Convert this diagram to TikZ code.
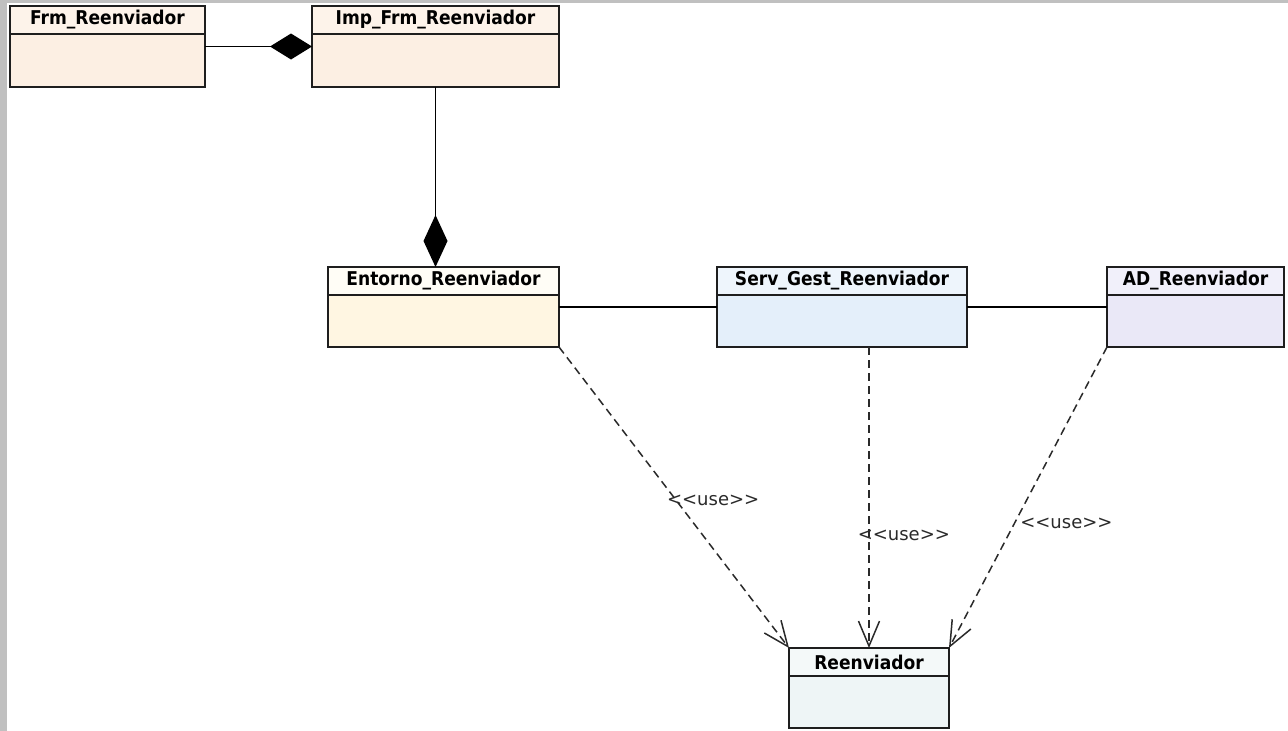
\documentclass[tikz,border=0pt]{standalone}
\usepackage{fontspec}
\usetikzlibrary{arrows.meta}
\newfontfamily\classfont{DejaVu Sans Condensed}
\newfontfamily\stereofont{DejaVu Sans}

\definecolor{framegrey}{HTML}{C0C0C0}
\definecolor{boxline}{HTML}{1E1E1E}
\definecolor{frmhead}{HTML}{FDF3EA}
\definecolor{frmbody}{HTML}{FCEFE3}
\definecolor{enthead}{HTML}{FFFDF6}
\definecolor{entbody}{HTML}{FFF6E2}
\definecolor{servhead}{HTML}{EEF5FC}
\definecolor{servbody}{HTML}{E4EFFA}
\definecolor{adhead}{HTML}{F1F0FA}
\definecolor{adbody}{HTML}{EAE8F7}
\definecolor{reenhead}{HTML}{F4F9F9}
\definecolor{reenbody}{HTML}{EEF5F6}
\definecolor{dashline}{HTML}{2A2A2A}

\begin{document}
\begin{tikzpicture}[x=1pt,y=-1pt,
  classbody/.style={draw=boxline, line width=1.6pt, minimum height=80pt,
    anchor=north west, inner sep=0pt, outer sep=0pt},
  classhead/.style={draw=boxline, line width=1.6pt, minimum height=28pt,
    anchor=north west, inner sep=0pt, outer sep=0pt, text=black,
    font=\classfont\bfseries\fontsize{19}{22}\selectfont},
  compose/.style={draw=black, line width=1.7pt, -{Diamond[length=#1]}},
  assoc/.style={draw=black, line width=1.6pt},
  usedep/.style={draw=dashline, line width=1.5pt, dash pattern=on 8pt off 5pt,
    -{Straight Barb[length=25pt,width=21pt,line width=1.5pt]}},
  uselbl/.style={inner sep=0pt, anchor=west, text=dashline,
    font=\stereofont\fontsize{18}{21}\selectfont}]

% canvas with the grey window edges
\fill[white] (0,0) rectangle (1288,731);
\fill[framegrey] (0,0) rectangle (1288,2.5);
\fill[framegrey] (0,0) rectangle (6.5,731);
\useasboundingbox (0,0) rectangle (1288,731);

% classes: body box, then the name compartment on top
\node[classbody, fill=frmbody, minimum width=195pt, minimum height=81pt] (frm) at (10,6) {};
\node[classhead, fill=frmhead, minimum width=195pt] (frmh) at (frm.north west) {Frm\_Reenviador};

\node[classbody, fill=frmbody, minimum width=247pt, minimum height=81pt] (imp) at (312,6) {};
\node[classhead, fill=frmhead, minimum width=247pt] (imph) at (imp.north west) {Imp\_Frm\_Reenviador};

\node[classbody, fill=entbody, minimum width=231pt] (ent) at (328,267) {};
\node[classhead, fill=enthead, minimum width=231pt] (enth) at (ent.north west) {Entorno\_Reenviador};

\node[classbody, fill=servbody, minimum width=250pt] (serv) at (717,267) {};
\node[classhead, fill=servhead, minimum width=250pt] (servh) at (serv.north west) {Serv\_Gest\_Reenviador};

\node[classbody, fill=adbody, minimum width=177pt] (ad) at (1107,267) {};
\node[classhead, fill=adhead, minimum width=177pt] (adh) at (ad.north west) {AD\_Reenviador};

\node[classbody, fill=reenbody, minimum width=160pt] (reen) at (789,648) {};
\node[classhead, fill=reenhead, minimum width=160pt] (reenh) at (reen.north west) {Reenviador};

% compositions
\draw[compose={42pt,width=26pt}] (frm.east) -- (imp.west);
\draw[compose={52pt,width=24pt}] (imp.south) -- (imp.south |- ent.north);

% associations
\draw[assoc] (ent.east) -- (serv.west);
\draw[assoc] (serv.east) -- (ad.west);

% <<use>> dependencies
\draw[usedep] (ent.south east) -- (reen.north west)
  node[uselbl, pos=0.51, xshift=-10pt] {<\kern0pt<use>\kern0pt>};
\draw[usedep] (reen.north |- serv.south) -- (reen.north)
  node[uselbl, pos=0.625, xshift=-12pt] {<\kern0pt<use>\kern0pt>};
\draw[usedep] (ad.south west) -- (reen.north east)
  node[uselbl, pos=0.585, xshift=5pt] {<\kern0pt<use>\kern0pt>};
\end{tikzpicture}
\end{document}
